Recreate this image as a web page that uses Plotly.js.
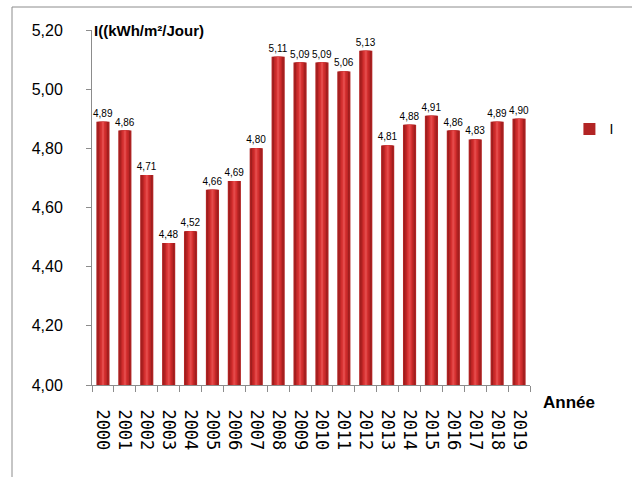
<!DOCTYPE html>
<html><head><meta charset="utf-8">
<script src="https://cdn.plot.ly/plotly-3.0.1.min.js"></script>
<style>html,body{margin:0;padding:0;background:#fff}#chart{width:632px;height:477px}</style>
</head><body><div id="chart"></div>
<script>
const years = ['2000','2001','2002','2003','2004','2005','2006','2007','2008','2009','2010','2011','2012','2013','2014','2015','2016','2017','2018','2019'];
const irradiation = [4.89,4.86,4.71,4.48,4.52,4.66,4.69,4.80,5.11,5.09,5.09,5.06,5.13,4.81,4.88,4.91,4.86,4.83,4.89,4.90];
const yTickVals = [4.0,4.2,4.4,4.6,4.8,5.0,5.2];
const yTickText = ['4,00','4,20','4,40','4,60','4,80','5,00','5,20'];
const labels = irradiation.map(v => v.toFixed(2).replace('.', ','));

const FONT = '"Liberation Sans", Arial, sans-serif';
const shades = [
  {w:0.6, c:'#7e1616'},
  {w:0.5, c:'#a01e1e'},
  {w:0.38, c:'#bf2626'},
  {w:0.24, c:'#d63131'},
  {w:0.1, c:'#e44a4a'}
];
const traces = shades.map((s, i) => ({
  type:'bar', x: years, y: irradiation, width: s.w,
  marker:{color:s.c, line:{width:0}},
  name: 'I', showlegend: i === 0,
  text: i === 0 ? labels : undefined,
  textposition: i === 0 ? 'outside' : 'none',
  textfont:{family:FONT, size:10, color:'#000000'},
  outsidetextfont:{family:FONT, size:10, color:'#000000'},
  constraintext:'none',
  cliponaxis:false, hoverinfo:'skip'
}));
traces[0].marker.color = '#b22424';

const layout = {
  width:632, height:477,
  margin:{l:92, r:102, t:30, b:92},
  paper_bgcolor:'#fff', plot_bgcolor:'#fff',
  barmode:'overlay',
  font:{family:FONT, color:'#000'},
  xaxis:{
    type:'category', tickangle:90, tickson:'boundaries',
    ticks:'outside', ticklen:6, tickcolor:'#8c8c8c',
    showline:true, linecolor:'#8c8c8c', linewidth:1, showgrid:false,
    ticklabelstandoff:20,
    tickfont:{family:'"DejaVu Sans Mono", monospace', size:17, color:'#000'}
  },
  yaxis:{
    range:[4.0, 5.2], tickvals:yTickVals, ticktext:yTickText,
    ticks:'outside', ticklen:5, tickcolor:'#8c8c8c',
    showline:true, linecolor:'#8c8c8c', linewidth:1, showgrid:false, zeroline:false,
    ticklabelstandoff:20,
    tickfont:{family:FONT, size:16, color:'#000'}
  },
  legend:{x:1.09, y:0.72, xanchor:'left', yanchor:'middle', font:{family:FONT, size:14}, bgcolor:'rgba(0,0,0,0)'},
  showlegend:true,
  annotations:[
    {xref:'paper', yref:'paper', x:0, y:1, xanchor:'left', yanchor:'middle', showarrow:false,
     text:'<b>I((kWh/m²/Jour)</b>', font:{family:FONT, size:15, color:'#000'}},
    {xref:'paper', yref:'paper', x:1.025, y:-0.05, xanchor:'left', yanchor:'middle', showarrow:false,
     text:'<b>Année</b>', font:{family:FONT, size:17, color:'#000'}}
  ],
  shapes:[
    {type:'line', xref:'paper', yref:'paper', x0:(12-92)/438, x1:(632-92)/438, y0:(385-7)/355, y1:(385-7)/355, line:{color:'#8c8c8c', width:1}},
    {type:'line', xref:'paper', yref:'paper', x0:(12-92)/438, x1:(12-92)/438, y0:(385-7)/355, y1:(385-477)/355, line:{color:'#8c8c8c', width:1}}
  ]
};
Plotly.newPlot('chart', traces, layout, {displayModeBar:false, staticPlot:true});
</script></body></html>
